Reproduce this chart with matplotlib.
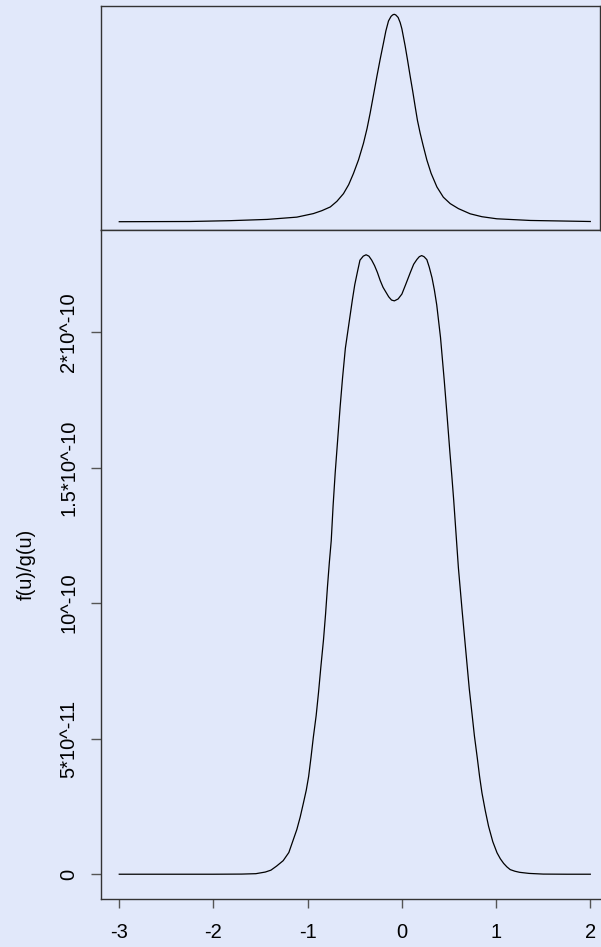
import numpy as np
import matplotlib
matplotlib.use('Agg')
from matplotlib import pyplot as plt

# top panel: density-like curve (relative height)
u_top = [-3.0, -2.25, -1.82, -1.43, -1.115, -0.94, -0.85, -0.76, -0.69, -0.62,
         -0.565, -0.514, -0.46, -0.408, -0.37, -0.337, -0.30, -0.265, -0.23,
         -0.195, -0.17, -0.142, -0.115, -0.098, -0.082, -0.065, -0.04, -0.018,
         0.0, 0.035, 0.06, 0.088, 0.115, 0.141, 0.165, 0.194, 0.225, 0.265,
         0.31, 0.372, 0.44, 0.513, 0.6, 0.725, 0.85, 1.008, 1.362, 2.0]
h_top = [0.002, 0.003, 0.007, 0.013, 0.024, 0.041, 0.055, 0.073, 0.10, 0.137,
         0.18, 0.234, 0.30, 0.379, 0.45, 0.524, 0.615, 0.702, 0.785,
         0.863, 0.92, 0.968, 0.99, 0.997, 1.0, 0.997, 0.985, 0.960,
         0.93, 0.847, 0.78, 0.702, 0.63, 0.556, 0.49, 0.428, 0.37, 0.299,
         0.235, 0.169, 0.12, 0.089, 0.065, 0.040, 0.026, 0.016, 0.008, 0.003]

# bottom panel: f(u)/g(u), in units of 1e-10
u_bot = [-3.0, -2.5, -2.0, -1.7, -1.55, -1.45, -1.39, -1.33, -1.26, -1.2,
         -1.16, -1.115, -1.08, -1.045, -1.015, -0.99, -0.965, -0.94, -0.91,
         -0.885, -0.86, -0.832, -0.81, -0.79, -0.77, -0.75, -0.73, -0.708,
         -0.68, -0.655, -0.63, -0.60, -0.575, -0.55, -0.525, -0.50, -0.47,
         -0.445, -0.41, -0.38, -0.35, -0.32, -0.29, -0.26, -0.23, -0.20,
         -0.14, -0.11, -0.08, -0.04, 0.0, 0.04, 0.09, 0.125, 0.16, 0.185,
         0.21, 0.235, 0.265, 0.29, 0.32, 0.345, 0.37, 0.39, 0.41, 0.43, 0.45,
         0.48, 0.51, 0.53, 0.55, 0.575, 0.60, 0.62, 0.64, 0.665, 0.69, 0.715,
         0.745, 0.77, 0.80, 0.825, 0.85, 0.885, 0.92, 0.965, 1.01, 1.045,
         1.08, 1.115, 1.15, 1.2, 1.25, 1.35, 1.5, 1.75, 2.0]
r_bot = [0.0, 0.0, 0.0, 0.0005, 0.002, 0.008, 0.015, 0.03, 0.05, 0.08,
         0.12, 0.165, 0.21, 0.263, 0.31, 0.36, 0.43, 0.505, 0.585,
         0.67, 0.765, 0.865, 0.96, 1.06, 1.15, 1.23, 1.36, 1.48,
         1.61, 1.726, 1.83, 1.94, 2.0, 2.06, 2.12, 2.175, 2.225,
         2.265, 2.28, 2.285, 2.28, 2.265, 2.245, 2.22, 2.19, 2.165,
         2.13, 2.118, 2.115, 2.122, 2.14, 2.175, 2.22, 2.25, 2.268, 2.278,
         2.282, 2.278, 2.267, 2.24, 2.20, 2.155, 2.10, 2.04, 1.98, 1.90, 1.82,
         1.69, 1.555, 1.47, 1.38, 1.255, 1.13, 1.05, 0.97, 0.875, 0.78, 0.685,
         0.59, 0.51, 0.43, 0.36, 0.30, 0.235, 0.177, 0.12, 0.079, 0.057,
         0.04, 0.027, 0.017, 0.011, 0.007, 0.003, 0.0005, 0.0, 0.0]

x_ticks = [-3, -2, -1, 0, 1, 2]
y_ticks = [0, 0.5, 1.0, 1.5, 2.0]
y_tick_labels = ['0', '5*10^-11', '10^-10', '1.5*10^-10', '2*10^-10']

bg = '#E1E8FA'
plt.rcParams['font.family'] = ['Liberation Sans', 'DejaVu Sans']

W, H = 601, 947
fig = plt.figure(figsize=(W / 100, H / 100), dpi=100, facecolor=bg)

left = 100.7 / W
width = (600 - 100.7) / W
xlim = (-3.197, 2.103)

def pad4(vals):
    lo, hi = min(vals), max(vals)
    r = hi - lo
    return lo - 0.04 * r, hi + 0.04 * r

# top panel
ax1 = fig.add_axes([left, (H - 230) / H, width, 224 / H], facecolor=bg)
ax1.plot(u_top, h_top, color='black', lw=0.9)
ax1.set_xlim(*xlim)
ax1.set_ylim(*pad4(h_top))
ax1.set_xticks([])
ax1.set_yticks([])
for s in ax1.spines.values():
    s.set_color('#333333')
    s.set_linewidth(1.0)

# bottom panel
ax2 = fig.add_axes([left, (H - 899) / H, width, 669 / H], facecolor=bg)
ax2.plot(u_bot, r_bot, color='black', lw=0.9)
ax2.set_xlim(*xlim)
ax2.set_ylim(*pad4(r_bot))
ax2.spines['right'].set_visible(False)
for k in ['left', 'bottom', 'top']:
    ax2.spines[k].set_color('#333333')
    ax2.spines[k].set_linewidth(1.0)
ax2.set_xticks(x_ticks)
ax2.set_xticklabels([str(t) for t in x_ticks], fontsize=14.5)
ax2.set_yticks(y_ticks)
ax2.set_yticklabels(y_tick_labels, fontsize=14.5, rotation=90, va='center')
ax2.tick_params(axis='x', length=6.5, width=1.0, color='#555555', pad=11)
ax2.tick_params(axis='y', length=7, width=1.0, color='#555555', pad=9)
ax2.set_ylabel('f(u)/g(u)', fontsize=14.5)
ax2.yaxis.set_label_coords(-0.131, 0.5)

fig.savefig('out.png', dpi=100, facecolor=bg)
